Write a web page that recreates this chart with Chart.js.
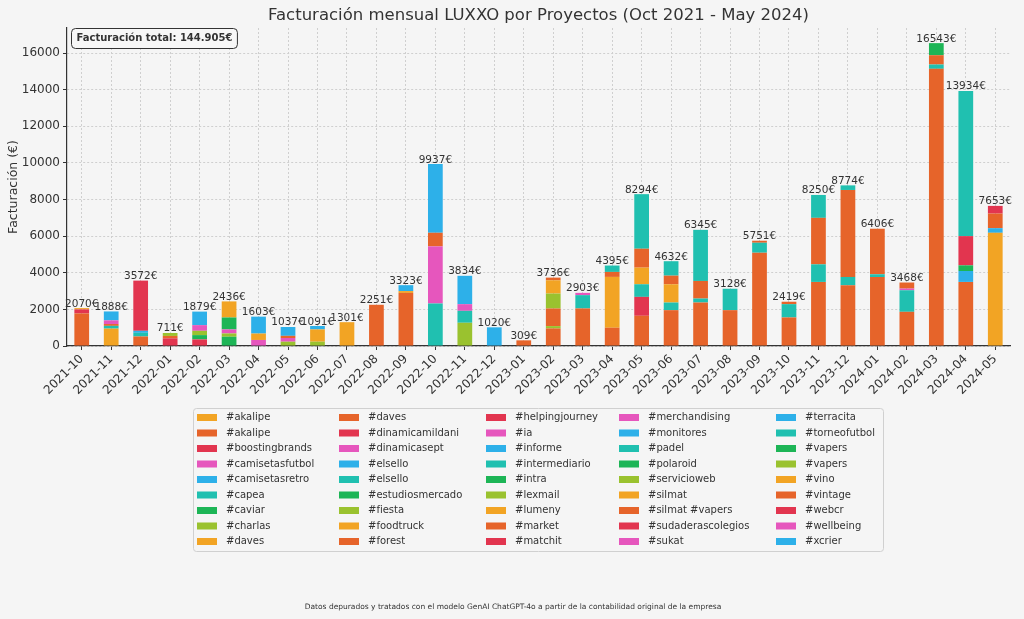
<!DOCTYPE html>
<html lang="es">
<head>
  <meta charset="UTF-8">
  <title>Facturación mensual LUXXO</title>
  <script src="https://cdn.jsdelivr.net/npm/chart.js"></script>
  <style>
    html, body { margin: 0; padding: 0; background: #f5f5f5; }
    #wrap { width: 1024px; height: 619px; }
  </style>
</head>
<body>
  <div id="wrap"><canvas id="facturacion" width="1024" height="619"></canvas></div>

  <script>
    // meses (eje x)
    const months = ["2021-10","2021-11","2021-12","2022-01","2022-02","2022-03","2022-04","2022-05",
      "2022-06","2022-07","2022-08","2022-09","2022-10","2022-11","2022-12","2023-01","2023-02",
      "2023-03","2023-04","2023-05","2023-06","2023-07","2023-08","2023-09","2023-10","2023-11",
      "2023-12","2024-01","2024-02","2024-03","2024-04","2024-05"];

    // marcas del eje y
    const yTicks = [0, 2000, 4000, 6000, 8000, 10000, 12000, 14000, 16000];

    // proyectos, en el orden de apilado (de abajo a arriba)
    const projects = ["#akalipe","#akalipe","#boostingbrands","#camisetasfutbol","#camisetasretro",
      "#capea","#caviar","#charlas","#daves","#daves","#dinamicamildani","#dinamicasept","#elsello",
      "#elsello","#estudiosmercado","#fiesta","#foodtruck","#forest","#helpingjourney","#ia","#informe",
      "#intermediario","#intra","#lexmail","#lumeny","#market","#matchit","#merchandising","#monitores",
      "#padel","#polaroid","#servicioweb","#silmat","#silmat #vapers","#sudaderascolegios","#sukat",
      "#terracita","#torneofutbol","#vapers","#vapers","#vino","#vintage","#webcr","#wellbeing","#xcrier"];

    // paleta que se repite cada 8 proyectos
    const palette = ["#f2a424","#e6642a","#e2354f","#e656bd","#2db0e9","#20c0b0","#1db556","#9ac22f"];

    // total facturado por mes (etiquetas sobre las barras)
    const totals = [2070,1888,3572,711,1879,2436,1603,1037,1091,1301,2251,3323,9937,3834,1020,309,
      3736,2903,4395,8294,4632,6345,3128,5751,2419,8250,8774,6406,3468,16543,13934,7653];

    // desglose de cada mes: [indice de proyecto, euros]
    const breakdown = [
      [[1,1780],[2,220],[8,70]],
      [[0,950],[5,150],[9,100],[11,200],[12,488]],
      [[1,520],[5,200],[12,110],[18,2742]],
      [[2,420],[9,130],[15,161]],
      [[2,360],[6,235],[7,235],[11,310],[12,739]],
      [[6,506],[7,181],[11,218],[14,653],[16,878]],
      [[3,330],[8,350],[12,923]],
      [[7,236],[11,200],[17,120],[20,481]],
      [[7,236],[8,670],[12,185]],
      [[16,1301]],
      [[17,2251]],
      [[17,2900],[24,100],[28,323]],
      [[13,2323],[19,3118],[25,745],[28,3751]],
      [[23,1269],[29,653],[35,363],[36,1549]],
      [[20,1020]],
      [[25,309]],
      [[9,961],[15,127],[17,961],[23,816],[24,725],[25,146]],
      [[25,2052],[29,726],[35,125]],
      [[17,998],[24,2776],[25,272],[29,349]],
      [[17,1650],[18,1034],[21,689],[24,907],[25,1034],[29,2980]],
      [[17,1958],[21,417],[24,997],[25,471],[29,789]],
      [[17,2375],[21,217],[25,961],[29,2792]],
      [[25,1958],[29,1170]],
      [[25,5096],[29,544],[33,111]],
      [[25,1560],[29,726],[33,133]],
      [[25,3500],[29,961],[33,2539],[37,1250]],
      [[25,3318],[29,453],[33,4752],[37,251]],
      [[25,3768],[29,150],[33,2488]],
      [[25,1868],[29,1178],[35,91],[41,331]],
      [[25,15140],[29,236],[33,508],[38,659]],
      [[25,3500],[28,598],[30,308],[34,1596],[37,7932]],
      [[32,6182],[36,254],[41,798],[42,419]]
    ];

    const totalText = "Facturación total: 144.905€";
    const footText = "Datos depurados y tratados con el modelo GenAI ChatGPT-4o a partir de la contabilidad original de la empresa";

    const FONT = "'DejaVu Sans', sans-serif";
    const INK = "#333333";

    // una serie por proyecto, con ceros donde no hay facturacion
    const datasets = projects.map((name, p) => ({
      label: name,
      data: months.map((m, i) => {
        const hit = breakdown[i].find(s => s[0] === p);
        return hit ? hit[1] : 0;
      }),
      backgroundColor: palette[p % palette.length],
      borderWidth: 0,
      barPercentage: 0.5,
      categoryPercentage: 1.0
    }));

    function roundRect(ctx, x, y, w, h, r) {
      ctx.beginPath();
      ctx.moveTo(x + r, y);
      ctx.arcTo(x + w, y, x + w, y + h, r);
      ctx.arcTo(x + w, y + h, x, y + h, r);
      ctx.arcTo(x, y + h, x, y, r);
      ctx.arcTo(x, y, x + w, y, r);
      ctx.closePath();
    }

    const decor = {
      id: "decor",
      beforeDraw(chart) {
        const ctx = chart.ctx;
        ctx.save();
        ctx.fillStyle = "#f5f5f5";
        ctx.fillRect(0, 0, chart.width, chart.height);
        ctx.restore();
      },
      afterDraw(chart) {
        const ctx = chart.ctx;
        const area = chart.chartArea;
        const x = chart.scales.x, y = chart.scales.y;
        ctx.save();

        // titulo
        ctx.fillStyle = INK;
        ctx.font = "16.5px " + FONT;
        ctx.textAlign = "center";
        ctx.textBaseline = "middle";
        ctx.fillText("Facturación mensual LUXXO por Proyectos (Oct 2021 - May 2024)", (area.left + area.right) / 2, 16);

        // titulo eje y
        ctx.save();
        ctx.translate(14, (area.top + area.bottom) / 2);
        ctx.rotate(-Math.PI / 2);
        ctx.font = "12.5px " + FONT;
        ctx.fillText("Facturación (€)", 0, 0);
        ctx.restore();

        // totales sobre las barras
        ctx.font = "10.5px " + FONT;
        ctx.textBaseline = "bottom";
        totals.forEach((t, i) => {
          ctx.fillText(t + "€", x.getPixelForValue(i), y.getPixelForValue(t) + 1);
        });

        // caja con la facturacion total
        ctx.font = "bold 10px " + FONT;
        ctx.textAlign = "left";
        ctx.textBaseline = "middle";
        const tw = ctx.measureText(totalText).width;
        roundRect(ctx, 71.5, 28.5, tw + 10, 20, 4);
        ctx.fillStyle = "#f7f7f7";
        ctx.fill();
        ctx.strokeStyle = INK;
        ctx.lineWidth = 1;
        ctx.stroke();
        ctx.fillStyle = INK;
        ctx.fillText(totalText, 76.5, 38.5);

        // leyenda en 5 columnas
        roundRect(ctx, 193.5, 408.5, 690, 143, 3);
        ctx.fillStyle = "#f5f5f5";
        ctx.fill();
        ctx.strokeStyle = "#d0d0d0";
        ctx.stroke();
        const colX = [197, 339, 486, 619, 776];
        ctx.font = "10px " + FONT;
        projects.forEach((name, p) => {
          const c = Math.floor(p / 9), r = p % 9;
          const cy = 417 + r * 15.5;
          ctx.fillStyle = palette[p % palette.length];
          ctx.fillRect(colX[c], cy - 3, 20, 7);
          ctx.fillStyle = INK;
          ctx.fillText(name, colX[c] + 29, cy + 0.5);
        });

        // nota al pie
        ctx.font = "7.5px " + FONT;
        ctx.textAlign = "center";
        ctx.fillText(footText, 513, 607);
        ctx.restore();
      }
    };

    new Chart(document.getElementById("facturacion").getContext("2d"), {
      type: "bar",
      data: { labels: months, datasets: datasets },
      options: {
        responsive: false,
        animation: false,
        layout: { padding: { top: 28, right: 14, left: 0, bottom: 213 } },
        plugins: {
          legend: { display: false },
          title: { display: false },
          tooltip: { enabled: false }
        },
        scales: {
          x: {
            stacked: true,
            afterFit: s => { s.height = 60; },
            grid: { offset: false, color: "#cfcfcf", tickColor: INK, tickLength: 4 },
            border: { display: true, color: INK, width: 1.2, dash: [2, 2] },
            ticks: { color: INK, font: { family: FONT, size: 12 }, minRotation: 45, maxRotation: 45, padding: 2 }
          },
          y: {
            stacked: true,
            min: 0,
            max: 17370,
            afterFit: s => { s.width = 67; },
            afterBuildTicks: s => { s.ticks = yTicks.map(v => ({ value: v })); },
            grid: { color: "#cfcfcf", tickColor: INK, tickLength: 4 },
            border: { display: true, color: INK, width: 1.2, dash: [2, 2] },
            ticks: { color: INK, font: { family: FONT, size: 12 }, padding: 3, callback: v => String(v) }
          }
        }
      },
      plugins: [decor]
    });
  </script>
</body>
</html>
